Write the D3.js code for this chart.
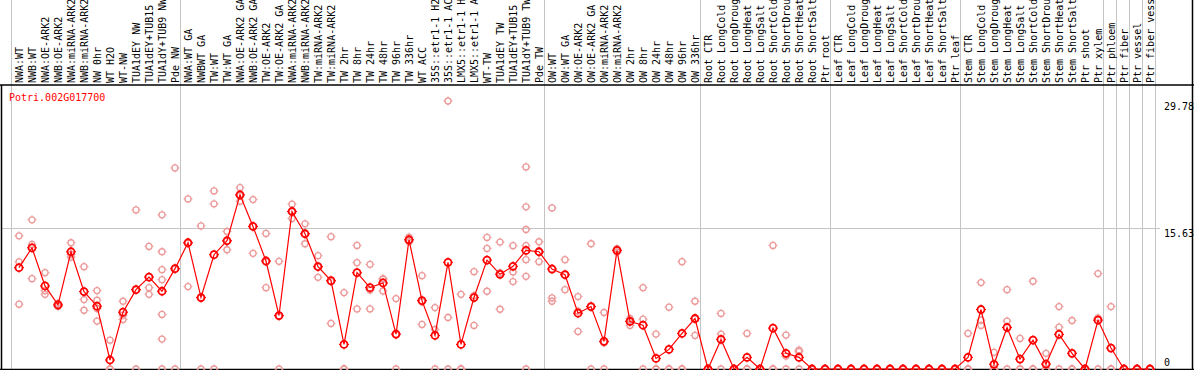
<!DOCTYPE html>
<html>
<head>
<meta charset="utf-8">
<script src="https://cdn.jsdelivr.net/npm/d3@7"></script>
<style>
  body { margin: 0; background: #fff; }
  svg { display: block; }
  text { font-family: "DejaVu Sans Mono", "Liberation Mono", monospace; font-size: 10px; }
</style>
</head>
<body>
<svg id="chart" width="1194" height="370"></svg>
<script>
// gene name shown in the corner
var geneName = 'Potri.002G017700';

// sample names, one per column
var samples = ['NWA:WT','NWB:WT','NWA:OE-ARK2','NWB:OE-ARK2','NWA:miRNA-ARK2','NWB:miRNA-ARK2','NW 0hr','WT H2O','WT-NW',
  'TUA1dEY NW','TUA1dEY+TUB15 NW','TUA1dY+TUB9 NW','Pde NW',
  'NWA:WT GA','NWBWT GA','TW:WT','TW:WT GA','NWA:OE-ARK2 GA','NWB:OE-ARK2 GA','TW:OE-ARK2','TW:OE-ARK2 GA',
  'NWA:miRNA-ARK2 GA','NWB:miRNA-ARK2 GA','TW:miRNA-ARK2','TW:miRNA-ARK2 GA','TW 2hr','TW 8hr','TW 24hr','TW 48hr',
  'TW 96hr','TW 336hr','WT ACC','35S::etr1-1 H2O','35S::etr1-1 ACC','LMX5::etr1-1 H2O','LMX5::etr1-1 ACC','WT-TW',
  'TUA1dEY TW','TUA1dEY+TUB15 TW','TUA1dY+TUB9 TW','Pde TW',
  'OW:WT','OW:WT GA','OW:OE-ARK2','OW:OE-ARK2 GA','OW:miRNA-ARK2','OW:miRNA-ARK2 GA','OW 2hr','OW 8hr','OW 24hr',
  'OW 48hr','OW 96hr','OW 336hr',
  'Root CTR','Root LongCold','Root LongDrought','Root LongHeat','Root LongSalt','Root ShortCold','Root ShortDrought',
  'Root ShortHeat','Root ShortSalt','Ptr root',
  'Leaf CTR','Leaf LongCold','Leaf LongDrought','Leaf LongHeat','Leaf LongSalt','Leaf ShortCold','Leaf ShortDrought',
  'Leaf ShortHeat','Leaf ShortSalt','Ptr leaf',
  'Stem CTR','Stem LongCold','Stem LongDrought','Stem LongHeat','Stem LongSalt','Stem ShortCold','Stem ShortDrought',
  'Stem ShortHeat','Stem ShortSalt','Ptr shoot','Ptr xylem',
  'Ptr phloem','Ptr fiber','Ptr vessel','Ptr fiber vessel'];

// column index where each group starts (grey separators)
var groupStarts = [0, 13, 41, 53, 63, 73, 84, 85, 86, 87, 88];

// mean expression per sample
var means = [11.26,13.47,9.23,7.12,13.03,8.6,6.98,1.0,6.31,8.82,10.22,8.64,11.15,
  14.03,7.94,12.7,14.25,19.35,15.84,12.0,5.94,17.5,15.03,11.37,9.82,2.73,10.7,9.04,9.56,3.88,14.36,7.6,3.73,
  11.85,2.73,7.94,12.1,10.52,11.41,13.18,13.03,
  11.11,10.48,6.2,6.94,3.07,13.18,5.28,4.87,1.18,2.18,3.95,5.61,
  0,3.29,0,1.29,0,4.54,1.74,1.29,0,0,
  0,0,0,0,0,0,0,0,0,0,
  1.29,6.61,0.52,4.61,1.1,3.21,0.55,3.84,1.74,0,5.43,
  2.33,0,0,0];

// single replicates per sample
var replicates = [
  [14.8,11.9,7.2],[16.58,13.84,10.04],[10.7,8.7,8.3],[7.3,7.1,6.95],[14.03,12.73,12.44],[11.37,7.72,6.53],
  [8.71,7.64,6.72,5.32],[3.2,0,0],[7.53,5.98,5.5],[17.68,8.8,0],[13.62,9.04,8.3],
  [17.13,13.03,11.04,9.93,6.06,3.32,0],[22.34,11.1,0],
  [18.9,14.0,9.16],[15.9,7.9,0],[19.79,18.35,0],[15.28,14.2,13.25],[20.15,19.26,18.64],[18.83,15.84,12.85],
  [15.06,11.9,9.04],[11.96,5.86,0],[18.31,17.5,16.72],[16.13,15.03,13.92],[12.59,11.35,10.19],[14.7,9.7,5.06],
  [8.49,0,0],[13.73,11.82,6.68],[11.63,8.78,6.68],[10.04,9.97,8.67],[7.83,3.8,0],[14.65,14.3,14.15],
  [10.37,7.48,4.95],[6.83,4.39,0],[29.78,5.72,0],[8.3,0,0],[10.82,8.16,4.84],[14.62,13.4,8.64],
  [14.1,10.67,6.64],[13.7,10.78,9.71],[22.45,18.02,15.5,13.7,12.15,10.3,0],[14.14,13.0,11.93],
  [17.9,7.9,7.53],[12.15,10.47,8.82],[8.05,6.43,4.17],[13.92,6.9,0],[6.28,2.93,0],[13.36,13.2,13.0],
  [5.61,5.4,4.84],[9.04,5.54,0],[3.88,0,0],[6.87,0,0],[11.93,0,0],[7.53,5.57,3.73],
  [0,0,0],[6.17,3.88,0],[0,0,0],[3.95,0,0],[0,0,0],[13.73,0,0],[3.77,1.44,0],[2.1,1.92,0],[0,0,0],[0,0,0],
  [0,0,0],[0,0,0],[0,0,0],[0,0,0],[0,0,0],[0,0,0],[0,0,0],[0,0,0],[0,0,0],[0,0,0],
  [3.95,0,0],[9.6,5.43,4.84],[1.85,0,0],[8.82,5.32,0],[3.4,0,0],[9.75,0,0],[1.74,0,0],[6.94,4.65,0],
  [5.39,0,0],[0,0,0],[10.6,5.68,0],
  [6.94,0,0],[0,0,0],[0,0,0],[0,0,0]];

// y axis labels
var yTicks = [0, 15.63, 29.78];

var svg = d3.select('#chart');
var headerBottom = 85;
var plotBottom = 369;

var x = d3.scaleBand().domain(d3.range(samples.length)).range([11, 1155]).padding(0);
var y = d3.scaleLinear().domain([0, d3.max(yTicks)]).range([plotBottom, 101]);

// point position inside a column
function cx(i) {
  return x(i) + x.bandwidth() / 2 + 1.5;
}
function lineX(k) {
  return (k < samples.length ? x(k) : x.range()[1]) + 0.5;
}

// grey horizontal line at the middle value
svg.append('line')
  .attr('x1', 2).attr('x2', 1160)
  .attr('y1', Math.round(y(yTicks[1])) + 0.5).attr('y2', Math.round(y(yTicks[1])) + 0.5)
  .attr('stroke', '#c4c4c4');

// group separators
svg.selectAll('.sep')
  .data(groupStarts)
  .enter()
  .append('line')
  .attr('class', 'sep')
  .attr('x1', lineX).attr('x2', lineX)
  .attr('y1', 0).attr('y2', plotBottom)
  .attr('stroke', '#c4c4c4');

// sample names, rotated, clipped to the header
svg.append('clipPath').attr('id', 'headClip')
  .append('rect').attr('x', 0).attr('y', 0).attr('width', 1194).attr('height', headerBottom);

svg.append('g').attr('clip-path', 'url(#headClip)')
  .selectAll('text')
  .data(samples)
  .enter()
  .append('text')
  .attr('transform', function(d, i) {
    return 'translate(' + (cx(i) + 4) + ',' + (headerBottom - 2) + ') rotate(-90)';
  })
  .attr('fill', '#000')
  .text(function(d) { return d; });

// frame
svg.append('line').attr('x1', 0).attr('x2', 1194).attr('y1', headerBottom).attr('y2', headerBottom)
  .attr('stroke', '#000').attr('stroke-width', 1.5);
svg.append('line').attr('x1', 1.5).attr('x2', 1.5).attr('y1', headerBottom).attr('y2', 370)
  .attr('stroke', '#000').attr('stroke-width', 1.5);
svg.append('line').attr('x1', 1192.5).attr('x2', 1192.5).attr('y1', 0).attr('y2', 370)
  .attr('stroke', '#000').attr('stroke-width', 1.5);
svg.append('line').attr('x1', 0).attr('x2', 1194).attr('y1', plotBottom + 0.5).attr('y2', plotBottom + 0.5)
  .attr('stroke', '#000').attr('stroke-width', 1.5);

// y labels on the right
svg.selectAll('.ylab')
  .data(yTicks)
  .enter()
  .append('text')
  .attr('class', 'ylab')
  .attr('x', 1164)
  .attr('y', function(d) { return d == 0 ? y(d) - 3 : y(d) + 9; })
  .attr('fill', '#000')
  .text(function(d) { return d; });

// gene name
svg.append('text').attr('x', 9).attr('y', 101).attr('fill', 'red').text(geneName);

// circle with the little ticks at 4 sides
function drawMarker(g, px, py, r, color, w) {
  g.append('circle').attr('cx', px).attr('cy', py).attr('r', r)
    .attr('fill', 'none').attr('stroke', color).attr('stroke-width', w);
  var t = r + 1.5;
  g.append('path')
    .attr('d', 'M' + px + ',' + (py - t) + 'V' + (py - r) + 'M' + px + ',' + (py + r) + 'V' + (py + t) +
               'M' + (px - t) + ',' + py + 'H' + (px - r) + 'M' + (px + r) + ',' + py + 'H' + (px + t))
    .attr('stroke', color).attr('stroke-width', 1);
}

// replicate points
var repG = svg.append('g');
replicates.forEach(function(reps, i) {
  reps.forEach(function(v) {
    drawMarker(repG, cx(i), y(v), 3, '#ec9a9a', 1.3);
  });
});

// mean line
var line = d3.line()
  .x(function(d, i) { return cx(i); })
  .y(function(d) { return y(d); });

svg.append('path')
  .datum(means)
  .attr('d', line)
  .attr('fill', 'none')
  .attr('stroke', 'red')
  .attr('stroke-width', 1.2);

// mean points
var meanG = svg.append('g');
means.forEach(function(v, i) {
  drawMarker(meanG, cx(i), y(v), 3.5, 'red', 1.8);
});
</script>
</body>
</html>
